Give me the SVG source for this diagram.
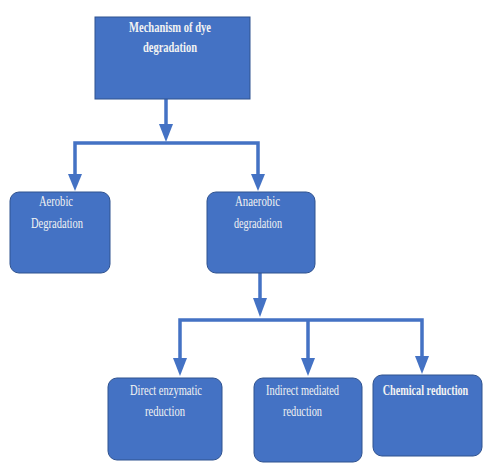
<svg xmlns="http://www.w3.org/2000/svg" width="483" height="463" viewBox="0 0 483 463">
<style>
.box{fill:#4472C4;stroke:#2F528F;stroke-width:1}
.t{font-family:"Liberation Serif","Times New Roman",serif;font-size:15px;fill:#F2F2F2;text-anchor:middle}
.b{font-weight:bold}
.c{fill:none;stroke:#4472C4;stroke-width:3.5}
.ah{fill:#4472C4}
</style>
<rect width="483" height="463" fill="#FFFFFF"/>
<g id="connectors">
<line class="c" x1="166" y1="99" x2="166" y2="124"/>
<path class="ah" d="M159,124 L173,124 L166,142 Z"/>
<polyline class="c" points="75,175 75,143 258,143 258,175"/>
<path class="ah" d="M68,174 L82,174 L75,191 Z"/>
<path class="ah" d="M251,174 L265,174 L258,191 Z"/>
<line class="c" x1="260" y1="273" x2="260" y2="298"/>
<path class="ah" d="M253,298 L267,298 L260,317 Z"/>
<polyline class="c" points="180,360 180,320 422,320 422,358"/>
<line class="c" x1="308" y1="320" x2="308" y2="360"/>
<path class="ah" d="M173,358 L187,358 L180,376 Z"/>
<path class="ah" d="M301,358 L315,358 L308,376 Z"/>
<path class="ah" d="M415,356 L429,356 L422,374 Z"/>
</g>
<g id="node-mechanism">
<rect class="box" x="95" y="17" width="155" height="82"/>
<text class="t b" x="170" y="32" textLength="82" lengthAdjust="spacingAndGlyphs">Mechanism of dye</text>
<text class="t b" x="170" y="52" textLength="54" lengthAdjust="spacingAndGlyphs">degradation</text>
</g>
<g id="node-aerobic">
<rect class="box" x="10" y="192" width="100" height="81" rx="9"/>
<text class="t" x="56" y="206" textLength="34" lengthAdjust="spacingAndGlyphs">Aerobic</text>
<text class="t" x="57" y="228" textLength="52" lengthAdjust="spacingAndGlyphs">Degradation</text>
</g>
<g id="node-anaerobic">
<rect class="box" x="207" y="192" width="108" height="81" rx="9"/>
<text class="t" x="257.5" y="206" textLength="45" lengthAdjust="spacingAndGlyphs">Anaerobic</text>
<text class="t" x="258" y="228" textLength="48" lengthAdjust="spacingAndGlyphs">degradation</text>
</g>
<g id="node-direct">
<rect class="box" x="108" y="378" width="114" height="82" rx="9"/>
<text class="t" x="166" y="395" textLength="72" lengthAdjust="spacingAndGlyphs">Direct enzymatic</text>
<text class="t" x="165" y="416" textLength="40" lengthAdjust="spacingAndGlyphs">reduction</text>
</g>
<g id="node-indirect">
<rect class="box" x="254" y="378" width="108" height="84" rx="9"/>
<text class="t" x="302.5" y="395" textLength="73" lengthAdjust="spacingAndGlyphs">Indirect mediated</text>
<text class="t" x="302.5" y="416" textLength="39" lengthAdjust="spacingAndGlyphs">reduction</text>
</g>
<g id="node-chemical">
<rect class="box" x="373" y="375" width="109" height="81" rx="9"/>
<text class="t b" x="0" y="0" transform="translate(425.5,395) scale(0.68,1)">Chemical reduction</text>
</g>
</svg>
